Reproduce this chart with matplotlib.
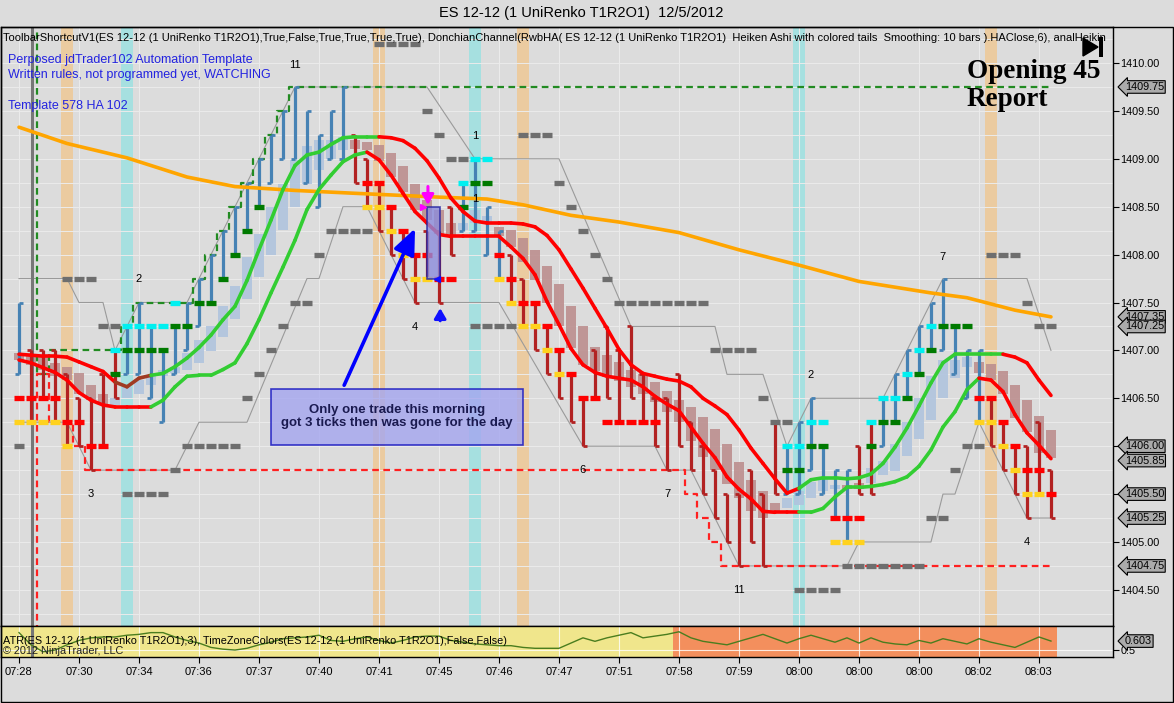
import matplotlib
matplotlib.use("Agg")
import matplotlib.pyplot as plt
import matplotlib.transforms as mtrans
import numpy as np
from matplotlib.collections import LineCollection
from matplotlib.patches import Rectangle, Polygon
from matplotlib.ticker import FuncFormatter

plt.rcParams['font.family'] = ['Liberation Sans', 'DejaVu Sans']

W, H = 1174, 703

# ---------------------------------------------------------------
# values (x = bar number, y = price)
# ---------------------------------------------------------------
bar_dir = ("u" + "d" * 8 + "u" * 19 + "d" * 9 + "u" * 4 + "d" * 23
           + "u" * 6 + "d" * 2 + "u" * 9 + "d" * 6)
bar_low = [1406.75, 1406.25, 1406.5, 1406.25, 1406.0, 1406.0, 1405.75, 1406.0, 1406.5,
           1406.75, 1406.75, 1406.5, 1406.25, 1406.75, 1407.0, 1407.25, 1407.5, 1407.75, 1408.0,
           1408.25, 1408.5, 1408.75, 1409.0, 1409.0, 1408.75, 1408.5, 1409.0, 1409.0,
           1408.75, 1408.5, 1408.25, 1408.0, 1407.75, 1407.5, 1407.75, 1407.5, 1408.0,
           1408.25, 1408.25, 1408.0, 1407.75,
           1407.5, 1407.25, 1407.0, 1406.75, 1406.5, 1406.25, 1406.0, 1406.5, 1406.5, 1406.25,
           1406.5, 1406.25, 1406.0, 1405.75, 1406.0, 1405.75, 1405.5, 1405.25, 1405.0, 1404.75,
           1405.0, 1404.75, 1405.5,
           1405.5, 1405.5, 1405.75, 1405.5, 1405.25, 1405.0,
           1405.5, 1405.5,
           1406.0, 1406.25, 1406.5, 1406.75, 1407.0, 1407.0, 1406.75, 1406.5, 1406.25,
           1406.0, 1405.75, 1405.5, 1405.25, 1405.5, 1405.25]
bar_high = [1407.5, 1407.0, 1407.0, 1407.0, 1406.75, 1406.5, 1406.5, 1406.75, 1407.0,
            1407.25, 1407.5, 1407.25, 1407.0, 1407.25, 1407.5, 1407.75, 1408.0, 1408.25, 1408.5,
            1408.75, 1409.0, 1409.25, 1409.5, 1409.75, 1409.5, 1409.25, 1409.5, 1409.75,
            1409.25, 1409.0, 1408.75, 1408.5, 1408.25, 1408.0, 1408.25, 1408.25, 1408.5,
            1408.75, 1409.0, 1408.5, 1408.25,
            1408.0, 1407.75, 1407.5, 1407.25, 1407.0, 1406.75, 1406.5, 1407.0, 1407.25, 1407.0,
            1407.25, 1406.75, 1406.5, 1406.5, 1406.75, 1406.25, 1406.0, 1405.75, 1405.5, 1405.5,
            1405.75, 1405.5, 1406.25,
            1406.0, 1406.25, 1406.5, 1406.0, 1405.75, 1405.75,
            1406.0, 1406.25,
            1406.5, 1406.75, 1407.0, 1407.25, 1407.5, 1407.75, 1407.25, 1407.0, 1407.0,
            1406.5, 1406.25, 1406.0, 1406.0, 1406.25, 1405.75]

# smoothed heiken ashi bodies
ha_dir = ("d" * 8 + "u" * 20 + "d" * 9 + "u" * 3 + "d" * 24 + "u" * 5 + "d" * 2
          + "u" * 9 + "d" * 7)
ha_low = [1406.90, 1406.85, 1406.80, 1406.73, 1406.69, 1406.55, 1406.48, 1406.43,
          1406.43, 1406.50, 1406.55, 1406.64, 1406.73, 1406.76, 1406.80, 1406.87, 1406.99, 1407.14,
          1407.33, 1407.54, 1407.77, 1408.00, 1408.26, 1408.50, 1408.74, 1408.88, 1409.00, 1409.09,
          1409.10, 1409.09, 1408.98, 1408.81, 1408.65, 1408.47, 1408.36, 1408.22, 1408.19,
          1408.26, 1408.33, 1408.33,
          1408.19, 1408.08, 1407.92, 1407.74, 1407.50, 1407.25, 1407.02, 1406.85, 1406.78, 1406.72,
          1406.68, 1406.62, 1406.55, 1406.46, 1406.36, 1406.25, 1406.05, 1405.89, 1405.75, 1405.61,
          1405.46, 1405.32, 1405.25, 1405.32,
          1405.35, 1405.39, 1405.46, 1405.53, 1405.55,
          1405.55, 1405.55,
          1405.62, 1405.70, 1405.74, 1405.90, 1406.08, 1406.27, 1406.50, 1406.71, 1406.83,
          1406.76, 1406.69, 1406.54, 1406.29, 1406.15, 1405.93, 1405.88]
ha_high = [1406.97, 1406.95, 1406.93, 1406.87, 1406.83, 1406.76, 1406.64, 1406.55,
           1406.50, 1406.62, 1406.69, 1406.73, 1406.80, 1406.83, 1406.97, 1407.11, 1407.25, 1407.46,
           1407.67, 1407.98, 1408.22, 1408.50, 1408.74, 1408.99, 1409.13, 1409.20, 1409.20, 1409.23,
           1409.20, 1409.18, 1409.14, 1409.06, 1408.92, 1408.74, 1408.57, 1408.47, 1408.33,
           1408.33, 1408.47, 1408.40,
           1408.29, 1408.26, 1408.17, 1408.05, 1407.88, 1407.69, 1407.46, 1407.25, 1407.04, 1406.95,
           1406.88, 1406.80, 1406.75, 1406.67, 1406.58, 1406.48, 1406.41, 1406.30, 1406.18, 1406.02,
           1405.84, 1405.65, 1405.53, 1405.41,
           1405.46, 1405.53, 1405.63, 1405.67, 1405.60,
           1405.60, 1405.62,
           1405.77, 1405.85, 1406.02, 1406.25, 1406.50, 1406.73, 1406.90, 1406.90, 1406.93,
           1406.88, 1406.86, 1406.78, 1406.64, 1406.48, 1406.31, 1406.17]

# two smoothing lines, with slope colour per bar (r red, g green, b brown)
smooth_a = [1406.96, 1406.95, 1406.94, 1406.94, 1406.93, 1406.88, 1406.83, 1406.78, 1406.67, 1406.62,
            1406.71, 1406.74, 1406.76, 1406.83, 1406.92, 1407.03, 1407.16, 1407.32, 1407.46, 1407.73,
            1408.05, 1408.36, 1408.68, 1408.93, 1409.04, 1409.07, 1409.15, 1409.22, 1409.23, 1409.23,
            1409.23, 1409.22, 1409.19, 1409.11, 1408.98, 1408.80, 1408.59, 1408.45, 1408.35, 1408.33,
            1408.33, 1408.33, 1408.32, 1408.29, 1408.20, 1408.05, 1407.85, 1407.65, 1407.44, 1407.23,
            1407.01, 1406.85, 1406.76, 1406.73, 1406.70, 1406.68, 1406.62, 1406.50, 1406.42, 1406.33,
            1406.17, 1405.98, 1405.82, 1405.66, 1405.51, 1405.56, 1405.65, 1405.67, 1405.67, 1405.66,
            1405.67, 1405.71, 1405.82, 1405.99, 1406.19, 1406.42, 1406.66, 1406.87, 1406.96, 1406.96,
            1406.96, 1406.96, 1406.96, 1406.93, 1406.87, 1406.69, 1406.53]
smooth_a_col = "r" * 9 + "b" * 3 + "g" * 19 + "r" * 35 + "g" * 17 + "r" * 4
smooth_b = [1406.90, 1406.87, 1406.82, 1406.77, 1406.69, 1406.56, 1406.48, 1406.43, 1406.41, 1406.41,
            1406.41, 1406.41, 1406.48, 1406.62, 1406.73, 1406.74, 1406.74, 1406.80, 1406.87, 1407.07,
            1407.32, 1407.60, 1407.87, 1408.15, 1408.47, 1408.68, 1408.83, 1408.97, 1409.04, 1409.07,
            1408.99, 1408.83, 1408.64, 1408.45, 1408.33, 1408.21, 1408.19, 1408.19, 1408.19, 1408.19,
            1408.19, 1408.08, 1407.96, 1407.79, 1407.51, 1407.27, 1407.02, 1406.85, 1406.77, 1406.73,
            1406.71, 1406.69, 1406.62, 1406.52, 1406.44, 1406.37, 1406.20, 1406.03, 1405.88, 1405.68,
            1405.55, 1405.45, 1405.32, 1405.31, 1405.31, 1405.31, 1405.31, 1405.35, 1405.47, 1405.57,
            1405.57, 1405.58, 1405.60, 1405.63, 1405.68, 1405.79, 1405.96, 1406.20, 1406.36, 1406.59,
            1406.71, 1406.69, 1406.57, 1406.33, 1406.14, 1406.01, 1405.87]
smooth_b_col = "r" * 12 + "g" * 18 + "r" * 36 + "g" * 15 + "r" * 6

# slow orange average
orange_bar = [0, 4, 9, 14, 18, 23, 28, 35, 39, 42, 46, 50, 55, 60, 65, 70, 76, 79, 83, 86]
orange_val = [1409.33, 1409.16, 1409.01, 1408.81, 1408.71, 1408.67, 1408.64, 1408.60, 1408.58,
              1408.52, 1408.41, 1408.34, 1408.23, 1408.05, 1407.89, 1407.72, 1407.60, 1407.55,
              1407.42, 1407.35]

# dashed donchian steps
dc_upper = ([1410.6, 1410.6, 1406.75] + [1407.0] * 6 + [1407.25] + [1407.5] * 5
            + [1407.75, 1408.0, 1408.25, 1408.5, 1408.75, 1409.0, 1409.25, 1409.5] + [1409.75] * 64)
dc_lower = ([1403.9, 1403.9, 1406.75, 1406.25, 1406.25, 1406.0] + [1405.75] * 50
            + [1405.5, 1405.25, 1405.0] + [1404.75] * 28)

# thin grey channel (vertices)
grey_up_bar = [0, 4, 5, 7, 8, 9, 10, 14, 22, 23, 34, 38, 45, 51, 58, 59, 62, 64, 66, 72, 77, 84, 86]
grey_up_val = [1407.75, 1407.75, 1407.5, 1407.5, 1407.0, 1407.25, 1407.5, 1407.5, 1409.5, 1409.75,
               1409.75, 1409.0, 1409.0, 1407.25, 1407.25, 1406.75, 1406.75, 1406.0, 1406.5, 1406.5,
               1407.75, 1407.75, 1407.0]
grey_lo_bar = [0, 4, 6, 13, 15, 19, 24, 25, 27, 29, 33, 40, 47, 53, 54, 56, 60, 69, 70, 76, 77, 78,
               80, 84, 86]
grey_lo_val = [1406.25, 1406.25, 1405.75, 1405.75, 1406.25, 1406.25, 1407.75, 1407.75, 1408.5, 1408.5,
               1407.5, 1407.5, 1406.0, 1406.0, 1405.75, 1405.75, 1404.75, 1404.75, 1405.0, 1405.0,
               1405.5, 1405.5, 1406.25, 1405.25, 1405.25]

# runs of short thick level marks: (first bar, last bar, price)
grey_marks = [(0, 0, 1406.0), (4, 6, 1407.75), (7, 8, 1407.25), (9, 12, 1405.5), (13, 13, 1405.75),
              (14, 18, 1406.0), (19, 19, 1406.5), (20, 20, 1406.75), (21, 21, 1407.0),
              (22, 22, 1407.25), (23, 24, 1407.5), (25, 25, 1408.0), (26, 29, 1408.25),
              (30, 33, 1410.2), (34, 34, 1409.5), (35, 35, 1409.25), (36, 37, 1409.0),
              (38, 41, 1407.25), (42, 44, 1409.25), (45, 45, 1408.75), (46, 46, 1408.5),
              (47, 47, 1408.25), (48, 48, 1408.0), (49, 49, 1407.75), (50, 57, 1407.5),
              (58, 61, 1407.0), (62, 62, 1406.5), (63, 64, 1406.25), (65, 68, 1404.5),
              (69, 75, 1404.75), (76, 77, 1405.25), (78, 78, 1405.75), (79, 80, 1406.0),
              (81, 83, 1408.0), (84, 84, 1407.5), (85, 86, 1407.25)]
red_marks = [(0, 3, 1406.5), (4, 5, 1406.25), (6, 7, 1406.0), (29, 30, 1408.75), (31, 31, 1408.5),
             (32, 32, 1408.25), (33, 34, 1408.0), (35, 36, 1407.75), (40, 40, 1408.0),
             (41, 41, 1407.75), (42, 43, 1407.5), (44, 44, 1407.25), (45, 45, 1407.0),
             (46, 46, 1406.75), (47, 48, 1406.5), (49, 53, 1406.25), (68, 70, 1405.25),
             (80, 81, 1406.5), (82, 82, 1406.25), (83, 83, 1406.0), (84, 85, 1405.75), (86, 86, 1405.5)]
yellow_marks = [(0, 3, 1406.25), (4, 4, 1406.0), (29, 30, 1408.5), (31, 31, 1408.25), (32, 32, 1408.0),
                (33, 34, 1407.75), (40, 40, 1407.75), (41, 41, 1407.5), (42, 43, 1407.25),
                (44, 44, 1407.0), (45, 45, 1406.75), (68, 70, 1405.0), (80, 81, 1406.25),
                (82, 82, 1406.0), (83, 83, 1405.75), (84, 85, 1405.5)]
green_marks = [(8, 8, 1406.75), (9, 12, 1407.0), (13, 14, 1407.25), (15, 16, 1407.5), (17, 17, 1407.75),
               (18, 18, 1408.0), (19, 19, 1408.25), (20, 20, 1408.5), (37, 37, 1408.5),
               (38, 39, 1408.75), (64, 65, 1405.75), (66, 67, 1406.0), (71, 71, 1406.0),
               (72, 73, 1406.25), (74, 74, 1406.5), (75, 75, 1406.75), (76, 76, 1407.0), (77, 79, 1407.25)]
cyan_marks = [(8, 8, 1407.0), (9, 12, 1407.25), (13, 13, 1407.5), (37, 37, 1408.75), (38, 39, 1409.0),
              (64, 65, 1406.0), (66, 67, 1406.25), (71, 71, 1406.25), (72, 73, 1406.5),
              (74, 74, 1406.75), (75, 75, 1407.0), (76, 76, 1407.25)]

# highlighted bars
tan_bars = [4, 30, 42, 81]
cyan_bars = [9, 38, 65]

# swing counts
swing_text = ["11", "2", "3", "1", "1", "4", "6", "7", "11", "2", "7", "4"]
swing_bar = [23, 10, 6, 38, 38, 33, 47, 54, 60, 66, 77, 84]
swing_val = [1409.98, 1407.75, 1405.5, 1409.24, 1408.58, 1407.24, 1405.75, 1405.5, 1404.5,
             1406.74, 1407.98, 1405.0]

# last-value flags on the price scale
flag_prices = [1409.75, 1407.35, 1407.25, 1406.00, 1405.85, 1405.50, 1405.25, 1404.75]

# ATR panel
atr_val = [0.70, 0.56, 0.48, 0.50, 0.56, 0.61, 0.64, 0.65, 0.65, 0.67, 0.68, 0.70, 0.70, 0.65, 0.61,
           0.58, 0.53, 0.51, 0.50, 0.52, 0.56, 0.59, 0.63, 0.64, 0.65, 0.67, 0.61, 0.60, 0.63, 0.65,
           0.61, 0.58, 0.61, 0.65, 0.66, 0.66, 0.61, 0.59, 0.57, 0.56, 0.55, 0.55, 0.53, 0.52, 0.52,
           0.52, 0.58, 0.64, 0.60,
           0.64, 0.67, 0.70, 0.64, 0.66, 0.68, 0.71, 0.64, 0.60, 0.58, 0.56, 0.60, 0.64, 0.68, 0.63,
           0.58, 0.63, 0.67, 0.63, 0.59, 0.64, 0.58, 0.64, 0.59, 0.57, 0.56, 0.61, 0.58, 0.63, 0.60,
           0.57, 0.63, 0.59, 0.56, 0.53, 0.59, 0.65, 0.603]
time_labels = ["07:28", "07:30", "07:34", "07:36", "07:37", "07:40", "07:41", "07:45", "07:46",
               "07:47", "07:51", "07:58", "07:59", "08:00", "08:00", "08:00", "08:02", "08:03"]

# ---------------------------------------------------------------
BG = '#DCDCDC'
COL = {'r': '#FF0000', 'g': '#32CD32', 'b': '#A03A22'}


def fx(x):
    return x / W


def fy(y):
    return 1 - y / H


fig = plt.figure(figsize=(W / 100, H / 100), dpi=100, facecolor=BG)
ax = fig.add_axes([fx(1), fy(626), fx(1113) - fx(1), fy(27) - fy(626)])
at = fig.add_axes([fx(1), fy(657), fx(1113) - fx(1), fy(626) - fy(657)])

n = len(bar_low)
XL = (-1.5, 91.17)
for a in (ax, at):
    a.set_facecolor(BG)
    a.set_xlim(*XL)
    for s in a.spines.values():
        s.set_color('black')
        s.set_linewidth(1.0)
ax.set_ylim(1404.123, 1410.376)

# grid
for p in np.arange(1404.25, 1410.3, 0.25):
    ax.axhline(p, color='#EBEBEB', lw=0.7, zorder=0.6)
for k in range(0, n, 5):
    ax.axvline(k, color='#EBEBEB', lw=0.8, zorder=0.6)
    at.axvline(k, color='#FFFFFF', lw=0.8, alpha=0.8, zorder=0.6)

# highlight bands
for b in tan_bars:
    ax.axvspan(b - 0.47, b + 0.47, color='#EBCBA0', lw=0, zorder=0.5)
for b in cyan_bars:
    ax.axvspan(b - 0.47, b + 0.47, color='#A6E0E0', lw=0, zorder=0.5)

# session line
ax.axvline(1.08, color='#777777', lw=2.2, zorder=2.5)
at.axvline(1.08, color='#777777', lw=2.2, zorder=2.5)

# heiken ashi bodies
for i in range(n):
    c = '#B0C4DE' if ha_dir[i] == 'u' else '#BC8F8F'
    ax.add_patch(Rectangle((i - 0.42, ha_low[i]), 0.84, ha_high[i] - ha_low[i],
                           fc=c, ec='none', alpha=0.9, zorder=1))

# thin grey channel + dashed donchian
ax.plot(grey_up_bar, grey_up_val, color='#9A9A9A', lw=0.8, zorder=1.5)
ax.plot(grey_lo_bar, grey_lo_val, color='#9A9A9A', lw=0.8, zorder=1.5)
idx = np.arange(n)
ax.step(idx, dc_upper, where='mid', color='#228B22', lw=1.6, ls=(0, (3, 2)), zorder=2)
ax.step(idx, dc_lower, where='mid', color='#FF2020', lw=1.6, ls=(0, (3, 2)), zorder=2)

# bars
for i in range(n):
    up = bar_dir[i] == 'u'
    c = '#4682B4' if up else '#B22222'
    o, cl = (bar_low[i], bar_high[i]) if up else (bar_high[i], bar_low[i])
    ax.vlines(i, bar_low[i], bar_high[i], color=c, lw=2.3, zorder=3)
    ax.hlines(o, i - 0.36, i, color=c, lw=2.0, zorder=3)
    ax.hlines(cl, i, i + 0.36, color=c, lw=2.0, zorder=3)


def marks(runs, color, z=4):
    for a, b, p in runs:
        for i in range(a, b + 1):
            ax.hlines(p, i - 0.42, i + 0.42, color=color, lw=3.8, zorder=z)


marks(grey_marks, '#6E6E6E')
marks(red_marks, '#FF0000')
marks(yellow_marks, '#FFD21E')
marks(green_marks, '#007A00')
marks(cyan_marks, '#00F0F0')

# orange average
ax.plot(orange_bar, orange_val, color='#FFA500', lw=2.6, zorder=5, solid_capstyle='round')


def colored(vals, cols):
    segs = [[(i, vals[i]), (i + 1, vals[i + 1])] for i in range(len(vals) - 1)]
    colors = [COL[cols[i + 1]] for i in range(len(vals) - 1)]
    ax.add_collection(LineCollection(segs, colors=colors, linewidths=2.6,
                                     capstyle='round', zorder=6))


colored(smooth_a, smooth_a_col)
colored(smooth_b, smooth_b_col)

# swing counts
for s, b, v in zip(swing_text, swing_bar, swing_val):
    ax.text(b, v, s, ha='center', va='center', fontsize=8, color='black', zorder=7)

# trade box and arrows
ax.add_patch(Rectangle((34.0, 1407.75), 1.08, 0.75, fc='#8C8CDC', ec='#2020A0',
                       lw=1.2, alpha=0.8, zorder=7))
ax.annotate('', xy=(34.08, 1408.49), xytext=(34.08, 1408.74),
            arrowprops=dict(arrowstyle='-|>,head_width=0.35,head_length=0.6',
                            color='#FF00FF', lw=2.2), zorder=8)
ax.annotate('', xy=(35.1, 1407.47), xytext=(35.1, 1407.28),
            arrowprops=dict(arrowstyle='-|>,head_width=0.35,head_length=0.6',
                            color='#1010FF', lw=2.2), zorder=8)
ax.plot([34.8], [1407.75], marker='<', color='#1010FF', ms=5, zorder=8)
ax.plot([33.7], [1408.5], marker='>', color='#FF00FF', ms=4, zorder=8)

# comment box
ax.add_patch(Rectangle((21.0, 1406.01), 21.0, 0.59, fc='#A4A6F0', ec='#1010C0',
                       lw=1.2, alpha=0.8, zorder=9))
ax.text(31.5, 1406.31, "Only one trade this morning\ngot 3 ticks then was gone for the day",
        ha='center', va='center', fontsize=9.5, fontweight='bold', color='#1A1A50',
        linespacing=1.05, zorder=10)
ax.annotate('', xy=(33.1, 1408.3), xytext=(27.0, 1406.61),
            arrowprops=dict(arrowstyle='-|>,head_width=0.55,head_length=1.3',
                            color='#0000FF', lw=2.6, mutation_scale=12), zorder=10)

# texts inside the price panel
ax.text(0.002, 0.9816,
        "ToolbarShortcutV1(ES 12-12 (1 UniRenko T1R2O1),True,False,True,True,True,True), "
        "DonchianChannel(RwbHA( ES 12-12 (1 UniRenko T1R2O1)  Heiken Ashi with colored tails  "
        "Smoothing: 10 bars ).HAClose,6), analHeikin",
        transform=ax.transAxes, fontsize=8, va='center', ha='left', color='black',
        clip_on=True, zorder=11)
for txt, yy in [("Perposed jdTrader102 Automation Template", 60),
                ("Written rules, not programmed yet, WATCHING", 75),
                ("Template 578 HA 102", 106)]:
    ax.text(0.0063, (626 - yy) / 599, txt, transform=ax.transAxes, fontsize=9,
            color='#2323E0', va='center', ha='left', zorder=11)


# price axis (labels hidden where a value flag sits on top of them)
def price_fmt(v, pos):
    if any(abs(v - f) < 0.1 for f in flag_prices):
        return ""
    return f"{v:.2f}"


ax.yaxis.tick_right()
ax.set_yticks(np.arange(1404.5, 1410.01, 0.5))
ax.yaxis.set_major_formatter(FuncFormatter(price_fmt))
ax.tick_params(axis='y', direction='out', length=4, width=0.8, pad=1.5, labelsize=7.8)
ax.tick_params(axis='x', length=0, labelbottom=False)

trans = mtrans.blended_transform_factory(ax.transAxes, ax.transData)
for v in flag_prices:
    ax.text(1.0105, v, f"{v:.2f}", transform=trans, fontsize=7.8, va='center', ha='left',
            clip_on=False, zorder=12,
            bbox=dict(boxstyle='larrow,pad=0.12', fc='#ABABAB', ec='black', lw=0.8))

# ATR panel
at.set_ylim(0.42, 0.776)
at.axvspan(-1.5, 54.5, color='#F0E68C', lw=0, zorder=0.2)
at.axvspan(54.5, 86.5, color='#F38F5D', lw=0, zorder=0.2)
at.axhline(0.5, color='#FFFFFF', lw=0.8, alpha=0.8, zorder=0.6)
at.plot(idx, atr_val, color='#4A7D1E', lw=1.0, zorder=3)
at.yaxis.tick_right()
at.set_yticks([0.5])
at.set_yticklabels(["0.5"])
at.tick_params(axis='y', direction='out', length=4, pad=1.5, labelsize=7.8)
at.set_xticks(range(0, n, 5))
at.set_xticklabels(time_labels)
at.tick_params(axis='x', direction='out', length=4, pad=3, labelsize=8)
at.text(0.002, 0.52, "ATR(ES 12-12 (1 UniRenko T1R2O1),3), TimeZoneColors(ES 12-12 (1 UniRenko "
        "T1R2O1),False,False)", transform=at.transAxes, fontsize=7.8, va='center', zorder=5)
at.text(0.002, 0.2, "\u00a9 2012 NinjaTrader, LLC", transform=at.transAxes, fontsize=7.8,
        va='center', color='#202020', zorder=5)
trans2 = mtrans.blended_transform_factory(at.transAxes, at.transData)
at.text(1.0105, atr_val[-1], f"{atr_val[-1]:.3f}", transform=trans2, fontsize=7.8, va='center',
        ha='left', clip_on=False, zorder=12,
        bbox=dict(boxstyle='larrow,pad=0.12', fc='#ABABAB', ec='black', lw=0.8))

# title, report note, play icon, outer frame
fig.text(0.495, fy(13), "ES 12-12 (1 UniRenko T1R2O1)  12/5/2012", ha='center', va='center',
         fontsize=10.5)
fig.text(fx(967), fy(59), "Opening 45\nReport", ha='left', va='top', family='Liberation Serif',
         fontweight='bold', fontsize=19.5, linespacing=1.17, color='black', zorder=20)
fig.add_artist(Polygon([(fx(1083), fy(38)), (fx(1083), fy(56)), (fx(1098), fy(47))],
                       closed=True, fc='black', ec='black', transform=fig.transFigure))
fig.add_artist(Rectangle((fx(1099), fy(57)), fx(4), fy(37) - fy(57), fc='black', ec='none',
                         transform=fig.transFigure))
fig.add_artist(Rectangle((fx(0.5), fy(701.5)), fx(1172.5), fy(27) - fy(701.5), fill=False,
                         ec='black', lw=1.0, transform=fig.transFigure))

fig.savefig("out.png", dpi=100, facecolor=BG)
